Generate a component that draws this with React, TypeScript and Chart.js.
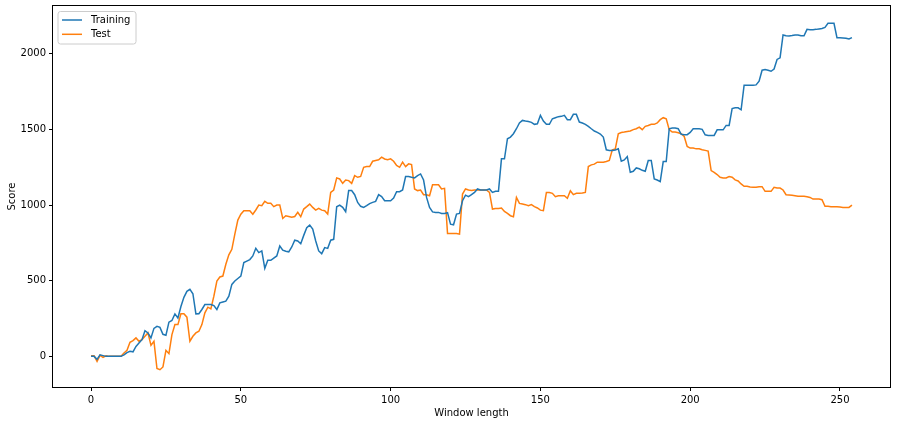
import { useEffect, useRef } from "react";
import { Chart, registerables } from "chart.js";

Chart.register(...registerables);

const trainingScores: number[] = [
  0, 0, -20, 10, 5, 0, 0, 0, 0, 0,
  0, 10, 25, 33, 30, 66, 88, 110, 170, 155,
  122, 185, 199, 192, 146, 140, 226, 237, 281, 254,
  330, 390, 430, 443, 414, 281, 282, 310, 343, 343,
  343, 336, 310, 354, 360, 365, 398, 476, 498, 515,
  531, 620, 630, 640, 664, 715, 686, 697, 582, 635,
  635, 650, 664, 730, 702, 695, 691, 723, 768, 763,
  745, 800, 850, 868, 841, 763, 697, 679, 719, 714,
  768, 774, 989, 1000, 985, 956, 1096, 1096, 1069, 1018,
  992, 985, 996, 1010, 1018, 1025, 1069, 1056, 1029, 1029,
  1029, 1047, 1089, 1089, 1100, 1189, 1189, 1184, 1180, 1195,
  1206, 1166, 1051, 985, 955, 952, 952, 945, 945, 950,
  874, 870, 941, 945, 1029, 1066, 1056, 1069, 1084, 1107,
  1100, 1100, 1100, 1107, 1084, 1091, 1091, 1306, 1306, 1439,
  1450, 1472, 1505, 1543, 1560, 1556, 1553, 1547, 1534, 1538,
  1594, 1556, 1534, 1534, 1571, 1578, 1585, 1587, 1594, 1565,
  1565, 1600, 1600, 1549, 1543, 1534, 1521, 1505, 1490, 1481,
  1470, 1450, 1366, 1361, 1361, 1365, 1372, 1290, 1299, 1321,
  1217, 1224, 1246, 1240, 1230, 1224, 1295, 1295, 1173, 1166,
  1155, 1288, 1288, 1505, 1510, 1510, 1505, 1468, 1466, 1466,
  1481, 1505, 1505, 1505, 1501, 1465, 1461, 1461, 1461, 1498,
  1498, 1498, 1527, 1527, 1638, 1643, 1643, 1630, 1793, 1793,
  1793, 1793, 1795, 1820, 1892, 1896, 1892, 1885, 1900, 1963,
  1974, 2125, 2120, 2118, 2121, 2125, 2125, 2120, 2120, 2162,
  2160, 2160, 2162, 2165, 2168, 2175, 2202, 2202, 2202, 2107,
  2107, 2105, 2103, 2098, 2107,
];

const testScores: number[] = [
  4, 4, -33, 7, -6, 4, 0, 0, 0, 0,
  0, 22, 40, 93, 104, 122, 100, 111, 133, 155,
  73, 100, -80, -88, -70, 40, 18, 144, 210, 210,
  281, 281, 259, 100, 133, 155, 166, 210, 288, 325,
  314, 398, 498, 525, 531, 609, 671, 708, 808, 901,
  940, 963, 963, 963, 940, 968, 1000, 996, 1025, 1012,
  1012, 990, 1000, 1000, 912, 930, 925, 920, 925, 952,
  923, 974, 990, 1007, 985, 967, 978, 967, 963, 941,
  1084, 1100, 1180, 1173, 1144, 1166, 1162, 1144, 1195, 1184,
  1190, 1250, 1255, 1255, 1290, 1295, 1300, 1317, 1305, 1300,
  1306, 1290, 1262, 1250, 1284, 1255, 1273, 1268, 1107, 1096,
  1100, 1069, 1069, 1062, 1135, 1135, 1135, 1107, 1111, 812,
  812, 812, 812, 808, 1073, 1107, 1100, 1096, 1100, 1100,
  1100, 1100, 1100, 1084, 974, 978, 978, 981, 958, 945,
  930, 923, 1051, 1011, 1007, 1003, 996, 1003, 990, 981,
  967, 963, 1084, 1084, 1078, 1056, 1062, 1062, 1062, 1045,
  1095, 1069, 1078, 1078, 1080, 1084, 1255, 1266, 1271, 1284,
  1284, 1284, 1288, 1295, 1366, 1372, 1472, 1480, 1483, 1487,
  1490, 1499, 1505, 1516, 1499, 1521, 1527, 1534, 1534, 1543,
  1565, 1578, 1571, 1499, 1483, 1483, 1479, 1472, 1454, 1388,
  1377, 1377, 1372, 1372, 1366, 1362, 1357, 1228, 1217, 1202,
  1184, 1180, 1180, 1189, 1184, 1167, 1160, 1140, 1124, 1124,
  1120, 1118, 1118, 1122, 1122, 1091, 1091, 1091, 1118, 1113,
  1113, 1100, 1069, 1067, 1065, 1062, 1058, 1058, 1058, 1055,
  1051, 1040, 1040, 1040, 1036, 992, 992, 990, 990, 989,
  987, 985, 985, 985, 1000,
];

const xTicks: number[] = [0, 50, 100, 150, 200, 250];
const yTicks: number[] = [0, 500, 1000, 1500, 2000];
const seriesNames: string[] = ["Training", "Test"];
const seriesColors: string[] = ["#1f77b4", "#ff7f0e"];

const FONT = "'DejaVu Sans', sans-serif";

const framePlugin = {
  id: "mplFrame",
  afterDraw(chart: any) {
    const { ctx, chartArea } = chart;
    const { left, top, right, bottom } = chartArea;
    ctx.save();
    ctx.strokeStyle = "#000";
    ctx.lineWidth = 1;
    ctx.strokeRect(Math.round(left) - 0.5, Math.round(top) - 0.5, Math.round(right - left) + 1, Math.round(bottom - top) + 1);

    // legend (upper left, matplotlib style)
    const bx = left + 5;
    const by = top + 5.5;
    const bw = 78;
    const bh = 32.5;
    const r = 2.5;
    ctx.beginPath();
    ctx.moveTo(bx + r, by);
    ctx.lineTo(bx + bw - r, by);
    ctx.quadraticCurveTo(bx + bw, by, bx + bw, by + r);
    ctx.lineTo(bx + bw, by + bh - r);
    ctx.quadraticCurveTo(bx + bw, by + bh, bx + bw - r, by + bh);
    ctx.lineTo(bx + r, by + bh);
    ctx.quadraticCurveTo(bx, by + bh, bx, by + bh - r);
    ctx.lineTo(bx, by + r);
    ctx.quadraticCurveTo(bx, by, bx + r, by);
    ctx.closePath();
    ctx.fillStyle = "rgba(255,255,255,0.8)";
    ctx.fill();
    ctx.strokeStyle = "#cccccc";
    ctx.lineWidth = 1;
    ctx.stroke();

    ctx.font = `10px ${FONT}`;
    ctx.textBaseline = "middle";
    ctx.textAlign = "left";
    chart.data.datasets.forEach((ds: any, i: number) => {
      const y = by + 8.5 + i * 14.3;
      ctx.strokeStyle = ds.borderColor;
      ctx.lineWidth = 1.5;
      ctx.beginPath();
      ctx.moveTo(bx + 4, y);
      ctx.lineTo(bx + 24, y);
      ctx.stroke();
      ctx.fillStyle = "#000";
      ctx.fillText(ds.label, bx + 33, y);
    });
    ctx.restore();
  },
};

export default function App() {
  const canvasRef = useRef<HTMLCanvasElement | null>(null);

  useEffect(() => {
    document.body.style.margin = "0";
    const canvas = canvasRef.current;
    if (!canvas) return;
    const toPoints = (arr: number[]) => arr.map((v, i) => ({ x: i, y: v }));
    const chart = new Chart(canvas, {
      type: "line",
      data: {
        datasets: [
          {
            label: seriesNames[0],
            data: toPoints(trainingScores),
            borderColor: seriesColors[0],
            backgroundColor: seriesColors[0],
            borderWidth: 1.5,
            pointRadius: 0,
            tension: 0,
          },
          {
            label: seriesNames[1],
            data: toPoints(testScores),
            borderColor: seriesColors[1],
            backgroundColor: seriesColors[1],
            borderWidth: 1.5,
            pointRadius: 0,
            tension: 0,
          },
        ],
      },
      options: {
        animation: false,
        responsive: false,
        maintainAspectRatio: false,
        devicePixelRatio: 1,
        layout: { padding: { left: 0, top: 6, right: 7, bottom: 0 } },
        plugins: {
          legend: { display: false },
          tooltip: { enabled: false },
        },
        scales: {
          x: {
            type: "linear",
            min: -12.7,
            max: 266.7,
            afterBuildTicks: (axis: any) => {
              axis.ticks = xTicks.map((v) => ({ value: v }));
            },
            afterFit: (scale: any) => {
              scale.height = 38;
              scale.paddingLeft = 0;
              scale.paddingRight = 0;
            },
            grid: {
              drawOnChartArea: false,
              drawTicks: true,
              tickLength: 4,
              color: "#000",
            },
            border: { display: false },
            ticks: {
              color: "#000",
              font: { family: FONT, size: 10 },
              padding: 3,
              maxRotation: 0,
              autoSkip: false,
              callback: (v: any) => String(v),
            },
            title: {
              display: true,
              text: "Window length",
              color: "#000",
              font: { family: FONT, size: 10 },
              padding: { top: 6, bottom: 6 },
            },
          },
          y: {
            type: "linear",
            min: -202.5,
            max: 2316.5,
            afterBuildTicks: (axis: any) => {
              axis.ticks = yTicks.map((v) => ({ value: v }));
            },
            afterFit: (scale: any) => {
              scale.width = 53;
              scale.paddingTop = 0;
              scale.paddingBottom = 0;
            },
            grid: {
              drawOnChartArea: false,
              drawTicks: true,
              tickLength: 4,
              color: "#000",
            },
            border: { display: false },
            ticks: {
              color: "#000",
              font: { family: FONT, size: 10 },
              padding: 3,
              autoSkip: false,
              callback: (v: any) => String(v),
            },
            title: {
              display: true,
              text: "Score",
              color: "#000",
              font: { family: FONT, size: 10 },
              padding: { top: 6, bottom: 6 },
            },
          },
        },
      },
      plugins: [framePlugin],
    } as any);
    return () => chart.destroy();
  }, []);

  return (
    <div style={{ width: 897, height: 425, background: "#fff" }}>
      <canvas ref={canvasRef} width={897} height={425} style={{ display: "block" }} />
    </div>
  );
}
